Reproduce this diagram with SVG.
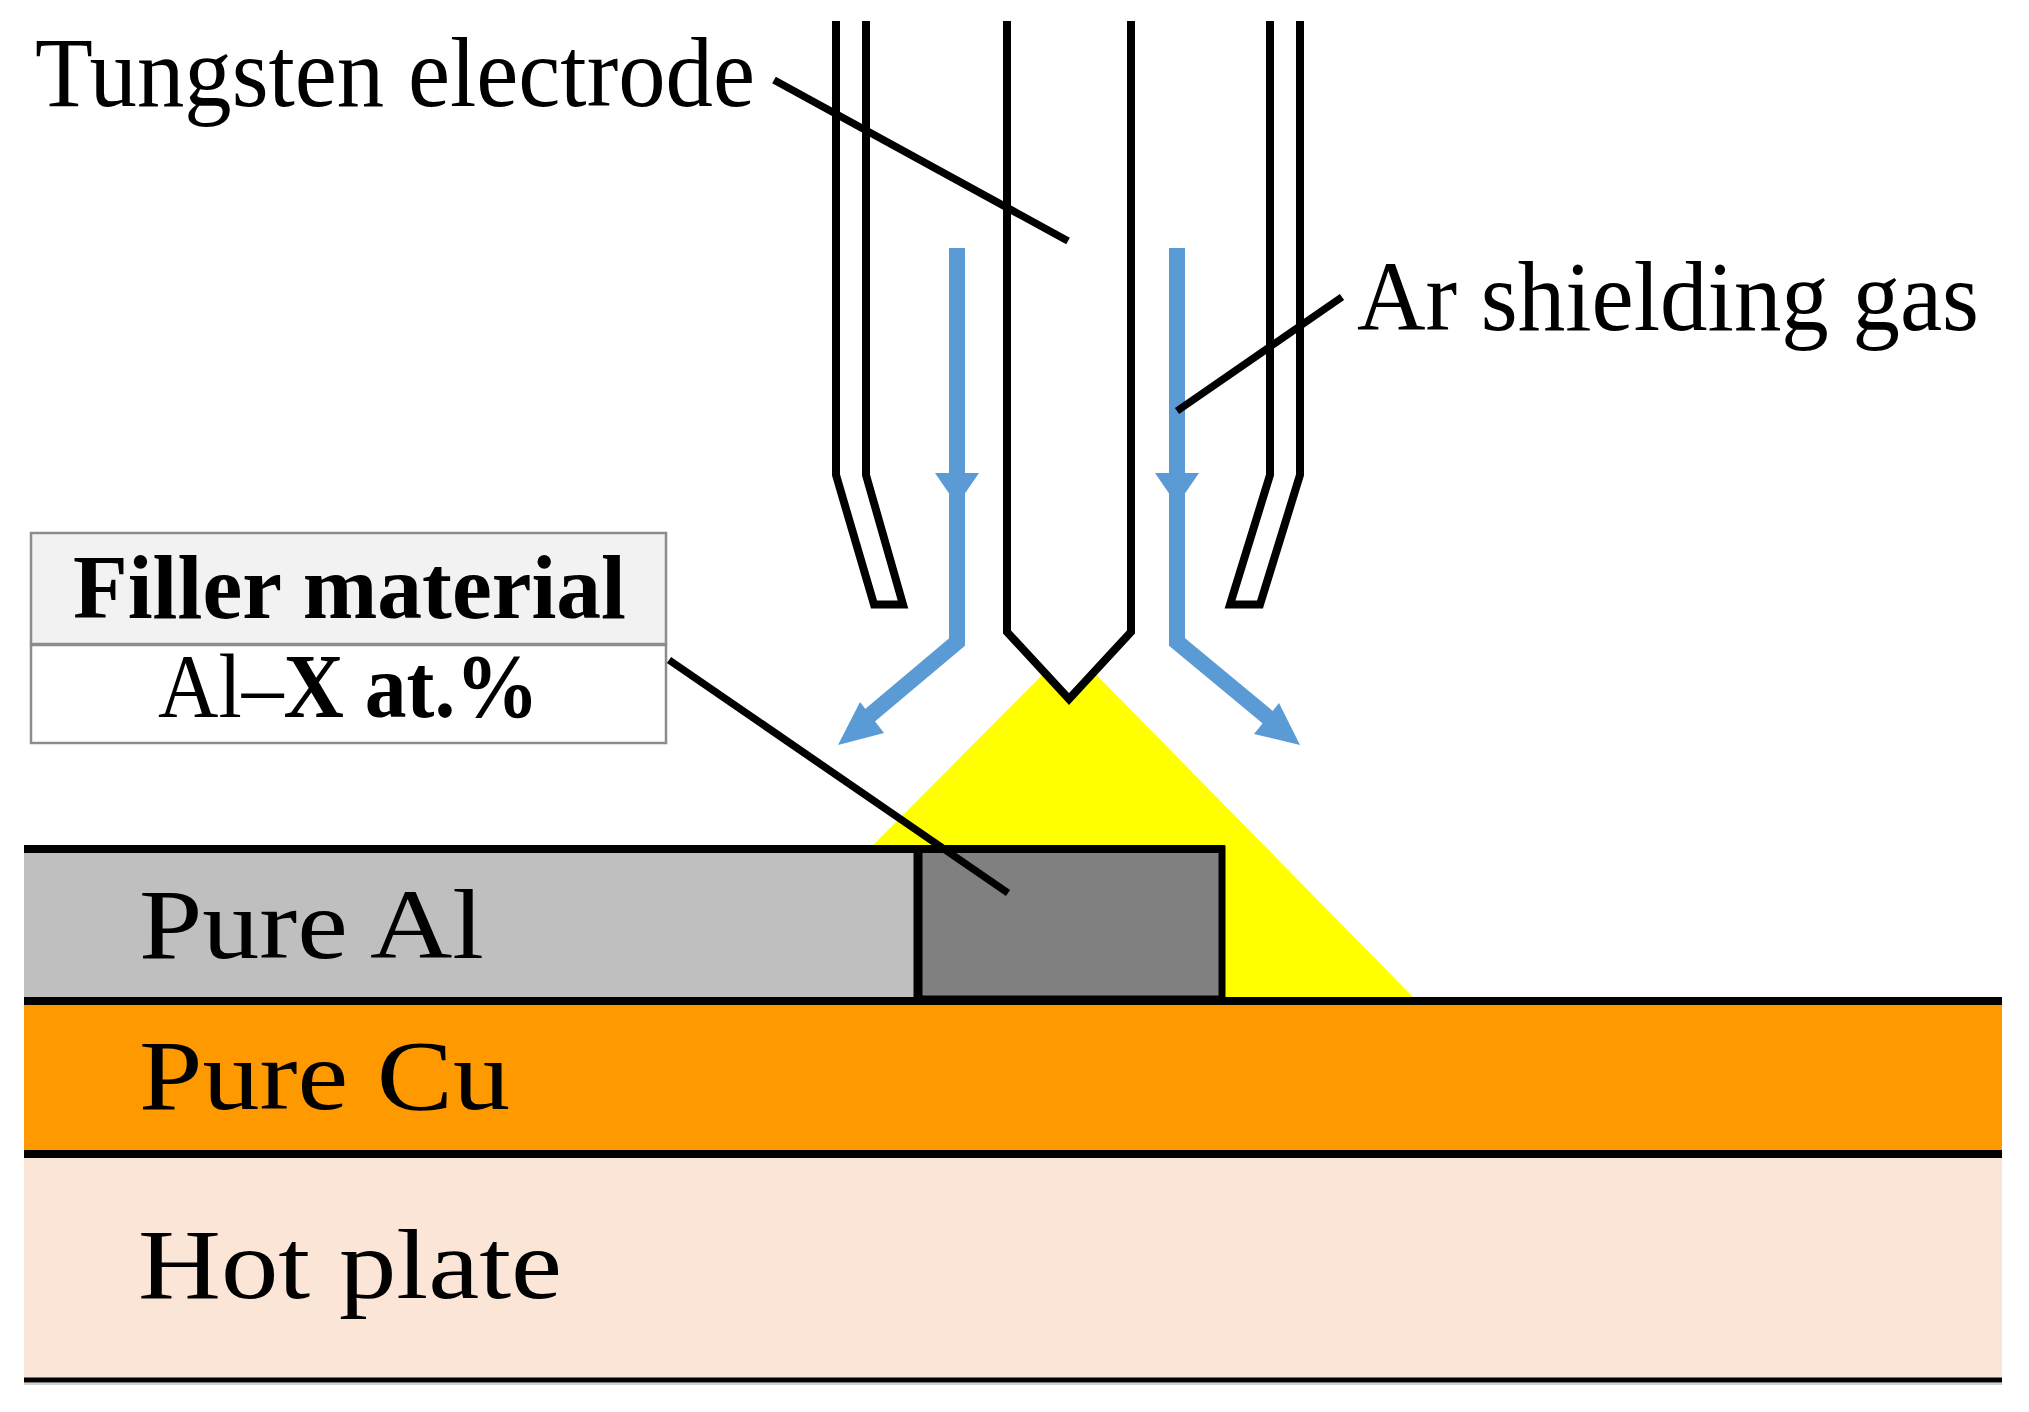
<svg xmlns="http://www.w3.org/2000/svg" width="2029" height="1412" viewBox="0 0 2029 1412">
<style>
.t{font-family:"Liberation Serif","Times New Roman",serif;fill:#000;font-size:100px}
.s{font-size:92px}
.b{font-weight:bold}
.k{fill:none;stroke:#000;stroke-width:8;stroke-linejoin:miter}
.l{stroke:#000;stroke-width:7.5;fill:none}
.f{fill:none;stroke:#5B9BD5;stroke-width:16;stroke-linejoin:miter}
.h{fill:#5B9BD5}
</style>
<rect width="2029" height="1412" fill="#fff"/>
<polygon id="arc" points="1066,651 1073,651 1413,997 722,997" fill="#FFFF00"/>
<g id="hot-plate"><rect x="24" y="1154" width="1978" height="226" fill="#FBE5D6"/><line x1="24" y1="1384" x2="2002" y2="1384" stroke="#d0d0d0" stroke-width="2"/><line x1="24" y1="1380" x2="2002" y2="1380" stroke="#000" stroke-width="5"/><text class="t" x="138" y="1298" textLength="424" lengthAdjust="spacingAndGlyphs">Hot plate</text></g>
<g id="copper"><rect x="24" y="1001" width="1978" height="153" fill="#FF9900"/><line x1="24" y1="1001" x2="2002" y2="1001" stroke="#000" stroke-width="8"/><line x1="24" y1="1154" x2="2002" y2="1154" stroke="#000" stroke-width="8"/><text class="t" x="139" y="1109" textLength="371" lengthAdjust="spacingAndGlyphs">Pure Cu</text></g>
<g id="aluminium"><rect x="24" y="849" width="894" height="148" fill="#BFBFBF"/><line x1="24" y1="849" x2="918" y2="849" stroke="#000" stroke-width="8"/><text class="t" x="139" y="958" textLength="345" lengthAdjust="spacingAndGlyphs">Pure Al</text></g>
<g id="filler-bead"><rect x="918" y="849" width="304" height="150" fill="#808080" stroke="#000" stroke-width="7"/><line x1="918" y1="849" x2="1225" y2="849" stroke="#000" stroke-width="8"/><line x1="918" y1="849" x2="918" y2="999" stroke="#000" stroke-width="9"/></g>
<g id="electrode"><polygon style="fill:#fff" points="1007,21 1131,21 1131,632 1069,699 1007,632"/><polyline class="k" points="1007,21 1007,632 1069,699 1131,632 1131,21"/></g>
<g id="nozzle-left"><polyline class="k" points="836,21 836,475 874,604.5 903,604.5 866,475 866,21"/></g>
<g id="nozzle-right"><polyline class="k" points="1300,21 1300,475 1260,604.5 1230,604.5 1270,475 1270,21"/></g>
<g id="box"><rect x="31" y="533" width="635" height="111" fill="#F2F2F2" stroke="#8c8c8c" stroke-width="2.5"/><rect x="31" y="645" width="635" height="98" fill="#fff" stroke="#8c8c8c" stroke-width="2.5"/><text class="t b s" x="73" y="618" textLength="553" lengthAdjust="spacingAndGlyphs">Filler material</text><text class="t s" x="158" y="717" textLength="381" lengthAdjust="spacingAndGlyphs">Al–<tspan class="b">X at.%</tspan></text></g>
<g id="connectors">
<polyline class="f" points="957,248 957,642 862,722"/><polygon class="h" points="935,473 979,473 957,505"/><polygon class="h" points="838,745 860,702 884,733"/>
<polyline class="f" points="1177,248 1177,642 1276,724"/><polygon class="h" points="1155,473 1199,473 1177,505"/><polygon class="h" points="1300,745 1279,703 1254,734"/>
<line class="l" x1="774" y1="80" x2="1068" y2="241"/>
<line class="l" x1="1342" y1="297" x2="1177" y2="411"/>
<line class="l" x1="669" y1="660" x2="1008" y2="893"/>
</g>
<g id="labels"><text class="t" x="35" y="106" textLength="720" lengthAdjust="spacingAndGlyphs">Tungsten electrode</text><text class="t" x="1357" y="330" textLength="622" lengthAdjust="spacingAndGlyphs">Ar shielding gas</text></g>
</svg>
